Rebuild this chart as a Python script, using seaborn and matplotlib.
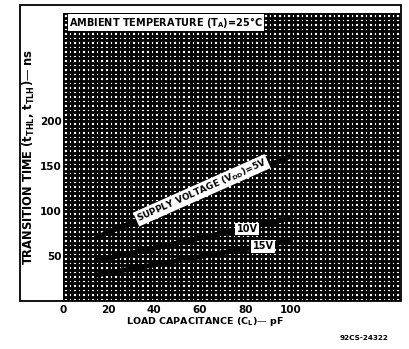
import matplotlib
matplotlib.use("Agg")
import matplotlib.pyplot as plt
from matplotlib.ticker import MultipleLocator, FixedLocator
from matplotlib.patches import Rectangle
import seaborn as sns
import pandas as pd

# ---- data ----
load_cap_pf = [15, 100]
t_5v = [71, 161]
t_10v = [45, 92]
t_15v = [29, 67]
series_names = ["5V", "10V", "15V"]
x_ticks = [0, 20, 40, 60, 80, 100]
y_ticks = [50, 100, 150, 200]

rows = []
for name, vals in zip(series_names, [t_5v, t_10v, t_15v]):
    for c, t in zip(load_cap_pf, vals):
        rows.append({"cap": c, "time": t, "vdd": name})
df = pd.DataFrame(rows)

sns.set_theme(style="white")
plt.rcParams["font.family"] = ["DejaVu Sans"]
plt.rcParams["text.color"] = "black"
plt.rcParams["axes.labelcolor"] = "black"
plt.rcParams["xtick.color"] = "black"
plt.rcParams["ytick.color"] = "black"

fig = plt.figure(figsize=(4.09, 3.49), dpi=100)
ax = fig.add_axes([63 / 409, 48 / 349, 337 / 409, 288 / 349])
ax.set_facecolor("white")

# dense graph-paper grid
ax.set_xlim(0, 148)
ax.set_ylim(0, 320)
ax.xaxis.set_minor_locator(MultipleLocator(2))
ax.yaxis.set_minor_locator(MultipleLocator(5))
ax.xaxis.set_major_locator(FixedLocator(x_ticks))
ax.yaxis.set_major_locator(FixedLocator(y_ticks))
ax.grid(which="both", color="black", linewidth=2.05)
ax.set_axisbelow(True)

sns.lineplot(data=df, x="cap", y="time", units="vdd", estimator=None,
             color="black", linewidth=3.6, ax=ax, legend=False, zorder=3)

for s in ax.spines.values():
    s.set_visible(False)

ax.tick_params(axis="both", which="both", length=0)
ax.tick_params(axis="x", pad=3)
ax.tick_params(axis="y", pad=1)
ax.set_xticklabels([str(v) for v in x_ticks], fontsize=7.5, fontweight="bold")
ax.set_yticklabels([str(v) for v in y_ticks], fontsize=7.5, fontweight="bold")

ax.set_xlabel("LOAD CAPACITANCE (C$_\\mathbf{L}$)— pF", fontsize=6.8,
              fontweight="bold")
ax.xaxis.set_label_coords((205 - 63) / 337, -(322 - 301) / 288)
ax.xaxis.label.set_va("center")
ax.set_ylabel("TRANSITION TIME (t$_\\mathbf{THL}$, t$_\\mathbf{TLH}$)— ns",
              fontsize=8.3, fontweight="bold")
ax.yaxis.set_label_coords(-(63 - 29) / 337, 0.5)
ax.yaxis.label.set_va("center")

box = dict(boxstyle="square,pad=0.15", facecolor="white", edgecolor="none")
ax.text(0.018, 0.993, "AMBIENT TEMPERATURE (T$_\\mathbf{A}$)=25°C",
        transform=ax.transAxes, ha="left", va="top", fontsize=7,
        fontweight="bold", bbox=dict(boxstyle="square,pad=0.12",
                                     facecolor="white", edgecolor="none"),
        zorder=5)
ax.text(61, 123, "SUPPLY VOLTAGE (V$_\\mathbf{DD}$)=5V", rotation=24,
        rotation_mode="anchor", ha="center", va="center", fontsize=6.5,
        fontweight="bold", bbox=box, zorder=5)
ax.text(81, 80, "10V", ha="center", va="center", fontsize=7,
        fontweight="bold", bbox=box, zorder=5)
ax.text(88, 61, "15V", ha="center", va="center", fontsize=7,
        fontweight="bold", bbox=box, zorder=5)

# outer frame of the datasheet graph
fig.patches.append(Rectangle((20 / 409, 48 / 349), 381 / 409, 296 / 349,
                             transform=fig.transFigure, fill=False,
                             edgecolor="black", linewidth=1.3))

fig.text(388 / 409, 1 - 338 / 349, "92CS-24322", ha="right", va="center",
         fontsize=5.2, fontweight="bold")

fig.savefig("out.png", dpi=100)
